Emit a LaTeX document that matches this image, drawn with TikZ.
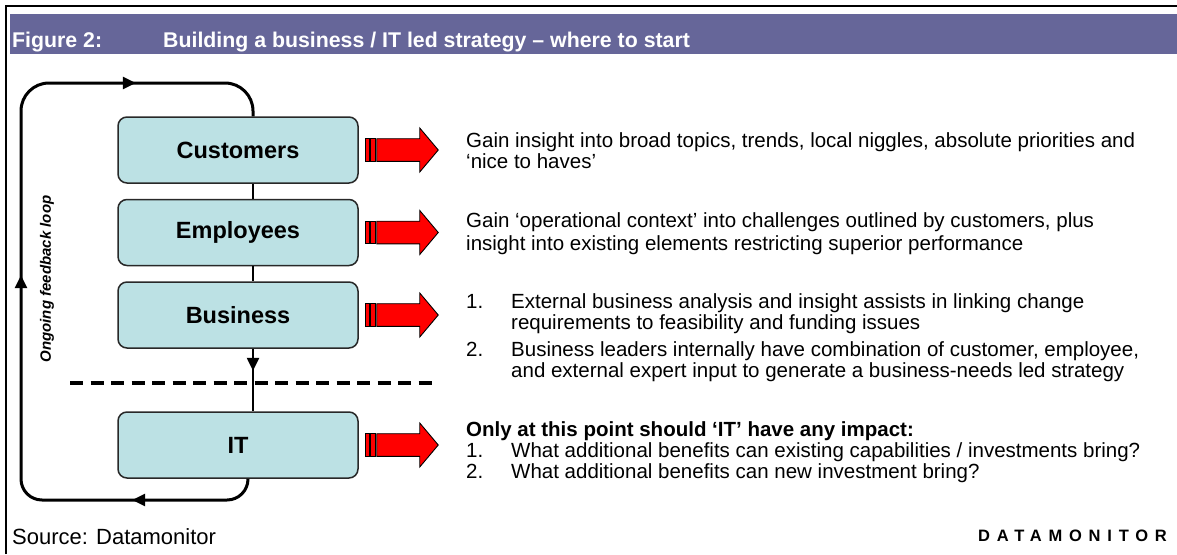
\documentclass[tikz,border=0pt]{standalone}
\usepackage{fontspec}
\setmainfont{Liberation Sans}
\usetikzlibrary{arrows.meta,decorations.markings,calc}
\definecolor{hdr}{RGB}{102,102,153}
\definecolor{boxfill}{RGB}{188,225,228}
\definecolor{boxline}{RGB}{40,40,40}
\tikzset{fbtip/.tip={Triangle[length=13pt,width=12pt]}}
\begin{document}
\begin{tikzpicture}[x=1pt,y=-1pt,
  stage/.style={draw=boxline,line width=1.5pt,fill=boxfill,rounded corners=9pt,
    minimum width=240pt,minimum height=66pt,inner sep=0pt,
    font=\fontsize{23.5}{26}\selectfont\bfseries},
  body/.style={anchor=base west,inner sep=0pt,font=\fontsize{20.5}{22}\selectfont},
  bodyb/.style={body,font=\fontsize{20.5}{22}\selectfont\bfseries},
  conn/.style={line width=2.5pt,draw=black},
  fb/.style={line width=3pt,draw=black,rounded corners=21pt},
  dashline/.style={line width=4pt,dash pattern=on 13pt off 7.5pt},
  redarrow/.style={fill=red,draw=black,line width=0.9pt},
  hdrtext/.style={anchor=base west,inner sep=0pt,text=white,font=\fontsize{21.3}{24}\selectfont\bfseries}
]
\useasboundingbox (0,0) rectangle (1177,554);
% frame
\draw[line width=2.2pt] (6,554) -- (6,6) -- (1177,6);
% header
\node[fill=hdr,anchor=north west,minimum width=1167pt,minimum height=40pt,inner sep=0pt] (hdr) at (10,14) {};
\node[hdrtext] (fig) at (12,47) {Figure 2:};
\node[hdrtext] (ttl) at (163,47) {Building a business / IT led strategy – where to start};
% boxes
\node[stage] (cu) at (238,150) {Customers};
\node[stage] (em) at (238,232.5) {Employees};
\node[stage] (bu) at (238,315) {Business};
\node[stage] (it) at (238,445) {IT};
\coordinate (sp) at (253,0);
\coordinate (lb) at (248,0);
% connectors
\draw[conn] (cu.south -| sp) -- (em.north -| sp);
\draw[conn] (em.south -| sp) -- (bu.north -| sp);
\draw[conn,postaction={decorate},decoration={markings,mark=at position 22pt with {\arrow{fbtip}}}]
  (bu.south -| sp) -- (it.north -| sp);
% dashed separator
\coordinate (dl) at (70,383);
\coordinate (dr) at (433,383);
\draw[dashline] (dl) -- (dr);
% feedback loop
\draw[fb,postaction={decorate},decoration={markings,
   mark=at position 128pt with {\arrow{fbtip}},
   mark=at position 455pt with {\arrow{fbtip}},
   mark=at position 750pt with {\arrow{fbtip}}}]
  (it.south -| lb) -- (248,500) -- (21,500) [rounded corners=28pt] -- (21,83) -- (253,83) [rounded corners=24pt] -- (cu.north -| sp);
\node[rotate=90,inner sep=0pt,font=\fontsize{15}{17}\selectfont\bfseries\itshape] (fbl) at (47,279) {Ongoing feedback loop};
% red arrows
\foreach \n in {cu,em,bu,it}{
  \begin{scope}[shift={(\n.east)}]
    \draw[redarrow] (7,-11.3) rectangle (10.5,11.3);
    \draw[redarrow] (11.5,-11.3) rectangle (16.5,11.3);
    \draw[redarrow] (18,-11.3) -- (61,-11.3) -- (61,-22) -- (79.5,0) -- (61,22) -- (61,11.3) -- (18,11.3) -- cycle;
  \end{scope}
}
% texts
\node[body] (c1) at (466,147) {Gain insight into broad topics, trends, local niggles, absolute priorities and};
\node[body] (c2) at (466,168) {‘nice to haves’};
\node[body] (e1) at (466,227) {Gain ‘operational context’ into challenges outlined by customers, plus};
\node[body] (e2) at (466,250) {insight into existing elements restricting superior performance};
\node[body] (b1n) at (466,308) {1.};
\node[body] (b1a) at (511,308) {External business analysis and insight assists in linking change};
\node[body] (b1b) at (511,329) {requirements to feasibility and funding issues};
\node[body] (b2n) at (466,356) {2.};
\node[body] (b2a) at (511,356) {Business leaders internally have combination of customer, employee,};
\node[body] (b2b) at (511,377) {and external expert input to generate a business-needs led strategy};
\node[bodyb] (i0) at (466,436) {Only at this point should ‘IT’ have any impact:};
\node[body] (i1n) at (466,457) {1.};
\node[body] (i1) at (511,457) {What additional benefits can existing capabilities / investments bring?};
\node[body] (i2n) at (466,478) {2.};
\node[body] (i2) at (511,478) {What additional benefits can new investment bring?};
% footer
\node[body,font=\fontsize{22}{24}\selectfont] (src) at (12,544) {Source: Datamonitor};
\node[anchor=base west,inner sep=0pt,font=\fontsize{16.5}{18}\selectfont\bfseries\addfontfeature{LetterSpace=41}] (dm) at (978,541) {DATAMONITOR};
\end{tikzpicture}
\end{document}
